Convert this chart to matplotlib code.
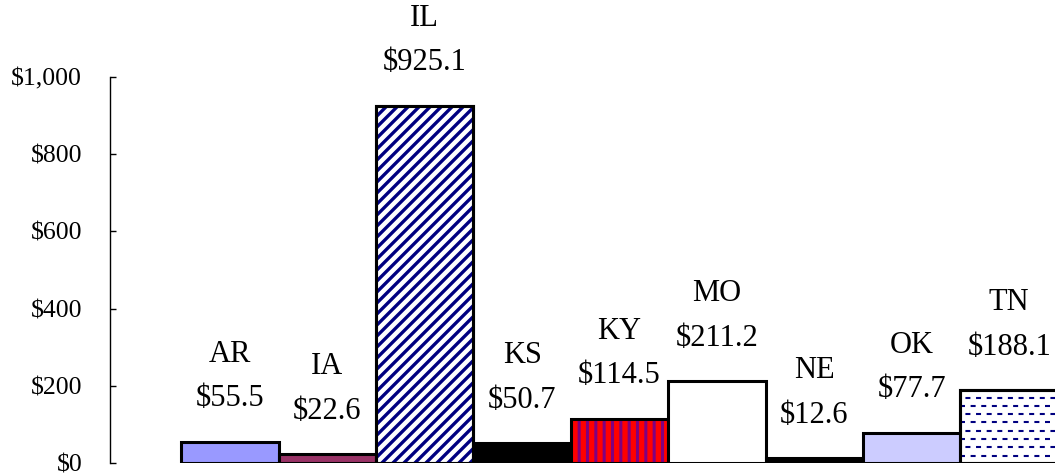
import matplotlib.pyplot as plt
import numpy as np
from matplotlib.ticker import FuncFormatter
from matplotlib.transforms import IdentityTransform
from matplotlib.colors import to_rgba

states = ['AR', 'IA', 'IL', 'KS', 'KY', 'MO', 'NE', 'OK', 'TN']
values = [55.5, 22.6, 925.1, 50.7, 114.5, 211.2, 12.6, 77.7, 188.1]
y_ticks = [0, 200, 400, 600, 800, 1000]

fills = ['#9999FF', '#993366', 'white', 'black', '#FF0000', 'white', 'black', '#CCCCFF', 'white']

plt.rcParams['font.family'] = ['Liberation Serif', 'DejaVu Serif']
plt.rcParams['hatch.linewidth'] = 2.2

fig = plt.figure(figsize=(10.55, 4.75), dpi=100)
ax = fig.add_axes([110 / 1055, 12 / 475, 1 - 110 / 1055, 386 / 475])
ax.set_xlim(-1.23, 8.47)
ax.set_ylim(0, 1000)

x = np.arange(len(states))
bars = ax.bar(x, values, width=1.0, color=fills, edgecolor='black', linewidth=2.2, zorder=2)

# KY: red with vertical purple stripes
bars[4].set_hatch('||')
bars[4]._hatch_color = to_rgba('#800080')

# IL: diagonal navy stripes, drawn in pixel space and clipped to the bar
il = bars[2]
(x0, y0), (x1, y1) = ax.transData.transform([(il.get_x(), 0), (il.get_x() + il.get_width(), il.get_height())])
for c in np.arange(x0 - (y1 - y0), x1, 11):
    ln, = ax.plot([c, c + (y1 - y0)], [y0, y1], color='#000080', lw=2.4,
                  transform=IdentityTransform(), zorder=2.5)
    ln.set_clip_path(il)

# TN: dashed horizontal navy lines, clipped to the bar
tn = bars[-1]
ys = np.arange(tn.get_y() + 19, tn.get_y() + tn.get_height(), 21.5)
for i, yy in enumerate(ys):
    ln, = ax.plot([tn.get_x(), tn.get_x() + tn.get_width()], [yy, yy], color='#000080',
                  lw=1.5, ls=((i % 2) * 2.5, (2.4, 2.7)), zorder=2.5)
    ln.set_clip_path(tn)

# redraw outlines of the hand-filled bars on top
for b in (il, tn):
    ax.bar(b.get_x() + b.get_width() / 2, b.get_height(), width=1.0, color='none',
           edgecolor='black', linewidth=2.2, zorder=3)

for xi, st, v in zip(x, states, values):
    ax.annotate('${:.1f}'.format(v), (xi, v), xytext=(0, 31), textcoords='offset points',
                ha='center', va='center', fontsize=22, annotation_clip=False)
    ax.annotate(st, (xi, v), xytext=(0, 63), textcoords='offset points',
                ha='center', va='center', fontsize=22, annotation_clip=False)

ax.set_yticks(y_ticks)
ax.yaxis.set_major_formatter(FuncFormatter(lambda v, p: '${:,.0f}'.format(v)))
ax.tick_params(axis='y', direction='in', length=4.5, width=1, pad=20, labelsize=18.5)
ax.set_xticks([])
for s in ['top', 'right', 'bottom']:
    ax.spines[s].set_visible(False)
ax.spines['left'].set_linewidth(1)

plt.savefig('out.png', dpi=100)
